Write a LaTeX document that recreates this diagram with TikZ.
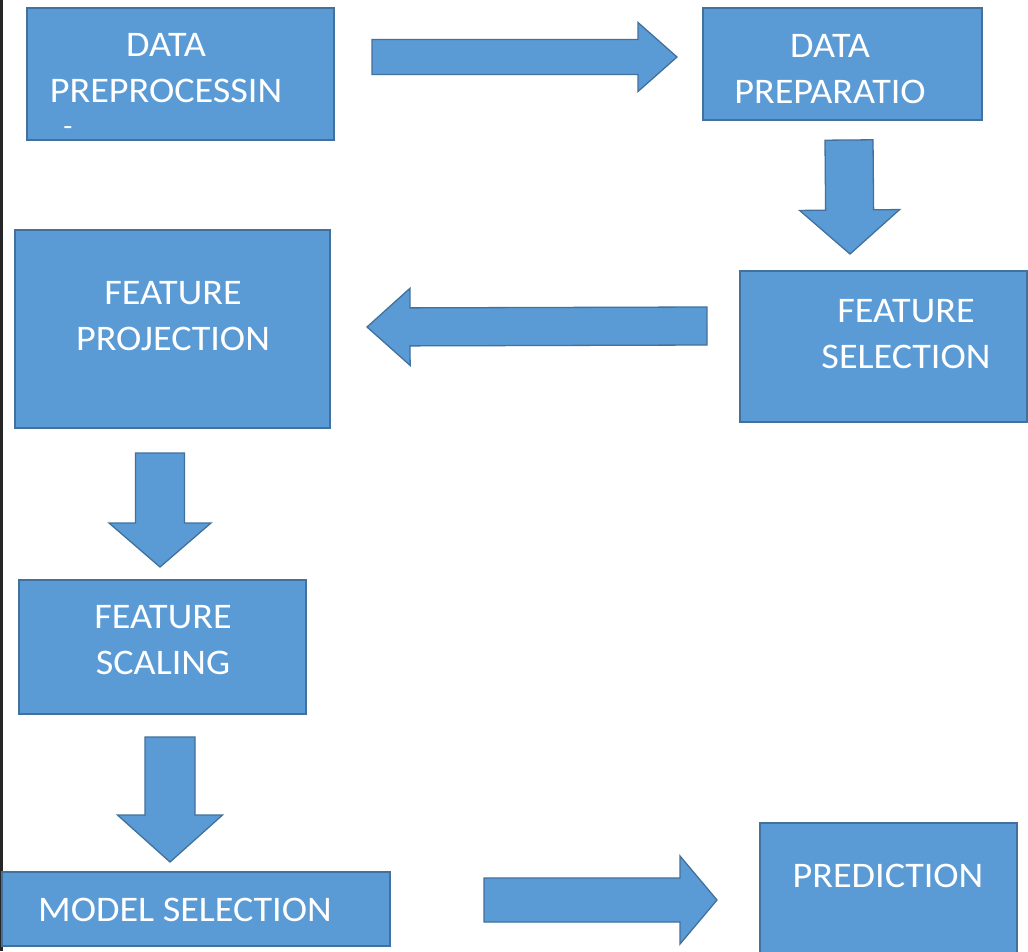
\documentclass[tikz,border=0pt]{standalone}
\usepackage{fontspec}
\setmainfont{Carlito}[FakeStretch=1.06]
\usetikzlibrary{calc}
\definecolor{boxblue}{HTML}{5B9BD5}
\definecolor{edgeblue}{HTML}{41719C}
\newcommand{\blockarrow}[5]{%
  \coordinate (hb) at ($(#2)!#5!(#1)$);
  \draw[barrow] ($(#1)!#3!90:(#2)$) -- ($(hb)!#3!90:(#2)$) -- ($(hb)!#4!90:(#2)$) -- (#2)
    -- ($(hb)!#4!-90:(#2)$) -- ($(hb)!#3!-90:(#2)$) -- ($(#1)!#3!-90:(#2)$) -- cycle;
}
\begin{document}
\begin{tikzpicture}[x=1pt,y=-1pt,
  box/.style={draw=edgeblue,fill=boxblue,line width=2pt,inner sep=0pt},
  txt/.style={text=white,align=center,inner sep=0pt,text depth=0pt,font=\fontsize{36}{46}\selectfont},
  barrow/.style={draw=edgeblue,fill=boxblue,line width=1.3pt,line join=miter}]
   \fill[white] (0,0) rectangle (1028,951);
   \useasboundingbox (0,0) rectangle (1028,951);
   \fill[black!85] (0,0) rectangle (3,951);

   \node[box,minimum width=307pt,minimum height=132pt] (prep)  at (180.5,74)  {};
   \node[box,minimum width=279pt,minimum height=112pt] (prepa) at (842.5,64)  {};
   \node[box,minimum width=287pt,minimum height=151pt] (fsel)  at (883.5,346.5) {};
   \node[box,minimum width=315pt,minimum height=198pt] (fproj) at (172.5,329) {};
   \node[box,minimum width=287pt,minimum height=134pt] (fscal) at (162.5,647) {};
   \node[box,minimum width=388pt,minimum height=74pt]  (msel)  at (196,909)   {};
   \node[box,minimum width=257pt,minimum height=132pt] (pred)  at (888.5,889) {};

   \node[txt] (prep-t)  at (166,68)    {DATA\\PREPROCESSIN};
   \node[txt,font=\fontsize{28}{30}\selectfont] (prep-d) at (68,131) {-};
   \node[txt] (prepa-t) at (830,68.5)  {DATA\\PREPARATIO};
   \node[txt] (fsel-t)  at (906,334)   {FEATURE\\SELECTION};
   \node[txt] (fproj-t) at (173,315.5) {FEATURE\\PROJECTION};
   \node[txt] (fscal-t) at (163,640)   {FEATURE\\SCALING};
   \node[txt] (msel-t)  at (185,910)   {MODEL SELECTION};
   \node[txt] (pred-t)  at (888,876)   {PREDICTION};

   \coordinate (a1s) at (372,57);  \coordinate (a1e) at (677,57);
   \coordinate (a2s) at (849,140); \coordinate (a2e) at (850,254);
   \coordinate (a3s) at (707,326); \coordinate (a3e) at (367,327);
   \coordinate (a4s) at (160,453); \coordinate (a4e) at (160,567);
   \coordinate (a5s) at (170,737); \coordinate (a5e) at (170,862);
   \coordinate (a6s) at (484,900); \coordinate (a6e) at (717,900);

   \blockarrow{a1s}{a1e}{17.5pt}{34.5pt}{39pt}
   \blockarrow{a2s}{a2e}{24pt}{50pt}{44pt}
   \blockarrow{a3s}{a3e}{19pt}{38.5pt}{43pt}
   \blockarrow{a4s}{a4e}{24.5pt}{51pt}{44pt}
   \blockarrow{a5s}{a5e}{25pt}{52.5pt}{47pt}
   \blockarrow{a6s}{a6e}{22pt}{44pt}{37pt}
\end{tikzpicture}
\end{document}
